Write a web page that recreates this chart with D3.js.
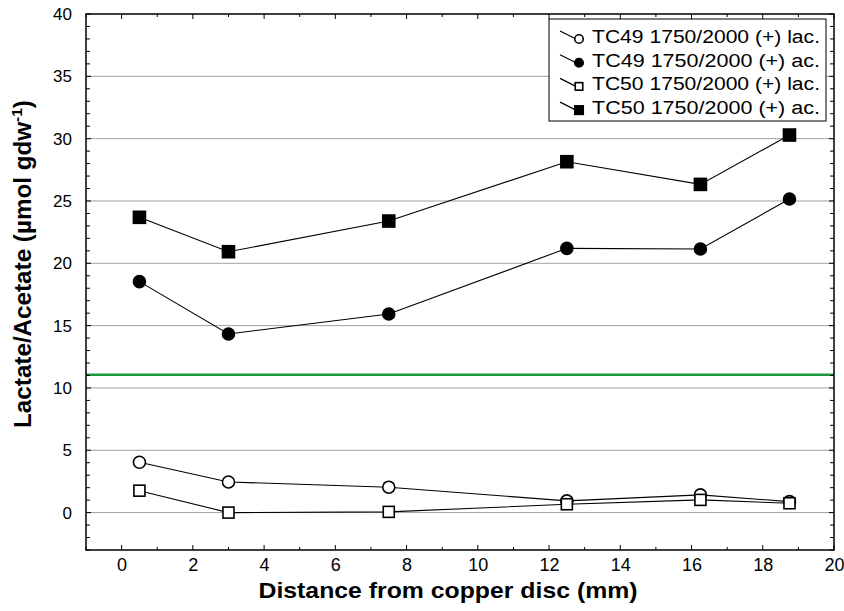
<!DOCTYPE html>
<html><head><meta charset="utf-8">
<script src="https://cdn.jsdelivr.net/npm/d3@7"></script>
<style>body{margin:0;background:#fff}svg{display:block;font-family:"Liberation Sans",Arial,sans-serif}</style>
</head><body><svg id="c" width="844" height="611"></svg>
<script>
const distances = [0.5, 3, 7.5, 12.5, 16.25, 18.75];
const tc49Lac = [4.04, 2.46, 2.04, 0.94, 1.42, 0.88];
const tc49Ac  = [18.53, 14.33, 15.93, 21.2, 21.15, 25.16];
const tc50Lac = [1.76, 0.0, 0.06, 0.67, 1.02, 0.75];
const tc50Ac  = [23.69, 20.93, 23.39, 28.15, 26.33, 30.29];
const referenceLevel = 11.05;
const xTicks = [0, 2, 4, 6, 8, 10, 12, 14, 16, 18, 20];
const yTicks = [0, 5, 10, 15, 20, 25, 30, 35, 40];
const seriesNames = ["TC49 1750/2000 (+) lac.", "TC49 1750/2000 (+) ac.", "TC50 1750/2000 (+) lac.", "TC50 1750/2000 (+) ac."];

const series = [
  {name: seriesNames[0], values: tc49Lac, shape: "circle", fill: "#fff"},
  {name: seriesNames[1], values: tc49Ac, shape: "circle", fill: "#000"},
  {name: seriesNames[2], values: tc50Lac, shape: "square", fill: "#fff"},
  {name: seriesNames[3], values: tc50Ac, shape: "square", fill: "#000"}
];

const L = 86, R = 834, T = 14, B = 550;
const svg = d3.select("#c");
const x = d3.scaleLinear().domain([-1, 20]).range([L, R]);
const y = d3.scaleLinear().domain([-3, 40]).range([B, T]);

// gridlines
svg.append("g").selectAll("line").data(yTicks.filter(v => v < 40)).join("line")
  .attr("x1", L).attr("x2", R).attr("y1", d => y(d)).attr("y2", d => y(d))
  .attr("stroke", "#a0a0a0").attr("stroke-width", 1);

// reference line
svg.append("line").attr("x1", L).attr("x2", R)
  .attr("y1", y(referenceLevel)).attr("y2", y(referenceLevel))
  .attr("stroke", "#1a9a3c").attr("stroke-width", 2.5);

// axes
const yMinor = d3.range(-3, 41, 1);
const xMinor = d3.range(-1, 21, 1);
svg.append("g").attr("transform", `translate(${L},0)`)
  .call(d3.axisLeft(y).tickValues(yTicks).tickSize(0).tickPadding(14).tickFormat(d3.format("d")))
  .call(g => g.select(".domain").remove())
  .call(g => g.selectAll("text").attr("font-size", 17).attr("fill", "#000").attr("font-family", "Liberation Sans, Arial"));
svg.append("g").attr("transform", `translate(0,${B})`)
  .call(d3.axisBottom(x).tickValues(xTicks).tickSize(0).tickPadding(8).tickFormat(d3.format("d")))
  .call(g => g.select(".domain").remove())
  .call(g => g.selectAll("text").attr("font-size", 18).attr("fill", "#000").attr("font-family", "Liberation Sans Narrow, Liberation Sans, Arial"));

// tick marks (inward)
const tk = svg.append("g").attr("stroke", "#000").attr("stroke-width", 1);
tk.selectAll(".yl").data(yMinor).join("line").attr("x1", L).attr("x2", d => L + (d % 5 === 0 ? 5 : 4))
  .attr("y1", d => y(d)).attr("y2", d => y(d));
tk.selectAll(".yr").data(yMinor).join("line").attr("x1", R).attr("x2", d => R - (d % 5 === 0 ? 5 : 4))
  .attr("y1", d => y(d)).attr("y2", d => y(d));
tk.selectAll(".xb").data(xMinor).join("line").attr("y1", B).attr("y2", d => B - (d % 2 === 0 ? 5 : 3))
  .attr("x1", d => x(d)).attr("x2", d => x(d));
tk.selectAll(".xt").data(xMinor).join("line").attr("y1", T).attr("y2", d => T + (d % 2 === 0 ? 5 : 3))
  .attr("x1", d => x(d)).attr("x2", d => x(d));

// frame
svg.append("rect").attr("x", L).attr("y", T).attr("width", R - L).attr("height", B - T)
  .attr("fill", "none").attr("stroke", "#000").attr("stroke-width", 1.5);

// series lines and markers
const line = d3.line().x((d, i) => x(distances[i])).y(d => y(d));
function marker(g, s, size) {
  if (s.shape === "circle") {
    g.append("circle").attr("r", size / 2).attr("fill", s.fill).attr("stroke", "#000").attr("stroke-width", 1.6);
  } else {
    const h = s.fill === "#000" ? size : size - 1;
    g.append("rect").attr("x", -h / 2).attr("y", -h / 2).attr("width", h).attr("height", h)
      .attr("fill", s.fill).attr("stroke", "#000").attr("stroke-width", 1.6);
  }
}
series.forEach(s => {
  svg.append("path").attr("d", line(s.values)).attr("fill", "none").attr("stroke", "#000").attr("stroke-width", 1.1);
});
series.forEach(s => {
  s.values.forEach((v, i) => {
    const g = svg.append("g").attr("transform", `translate(${x(distances[i])},${y(v)})`);
    marker(g, s, 12);
  });
});

// legend
const lg = svg.append("g");
lg.append("rect").attr("x", 549).attr("y", 19).attr("width", 277).attr("height", 102)
  .attr("fill", "#fff").attr("stroke", "#000").attr("stroke-width", 1);
series.forEach((s, i) => {
  const yc = 37 + i * 23.7;
  lg.append("line").attr("x1", 560).attr("y1", yc - 6).attr("x2", 582).attr("y2", yc + 5)
    .attr("stroke", "#000").attr("stroke-width", 1.2);
  const g = lg.append("g").attr("transform", `translate(579,${yc + 2})`);
  marker(g, s, 8.5);
  lg.append("text").attr("x", 592).attr("y", yc + 6).attr("font-size", 18)
    .attr("textLength", 228).attr("lengthAdjust", "spacingAndGlyphs")
    .text(s.name);
});

// axis titles
svg.append("text").attr("x", 448).attr("y", 598).attr("text-anchor", "middle")
  .attr("font-size", 22).attr("font-weight", "bold")
  .attr("textLength", 379).attr("lengthAdjust", "spacingAndGlyphs")
  .text("Distance from copper disc (mm)");
const yt = svg.append("text").attr("text-anchor", "middle").attr("font-size", 23.5).attr("font-weight", "bold");
yt.append("tspan").text("Lactate/Acetate (µmol gdw");
yt.append("tspan").attr("dy", -9).attr("font-size", 15).text("-1");
yt.append("tspan").attr("dy", 9).text(")");
const w = yt.node().getComputedTextLength();
yt.attr("transform", `translate(31,264) rotate(-90) scale(${328 / w},1)`);
</script></body></html>
